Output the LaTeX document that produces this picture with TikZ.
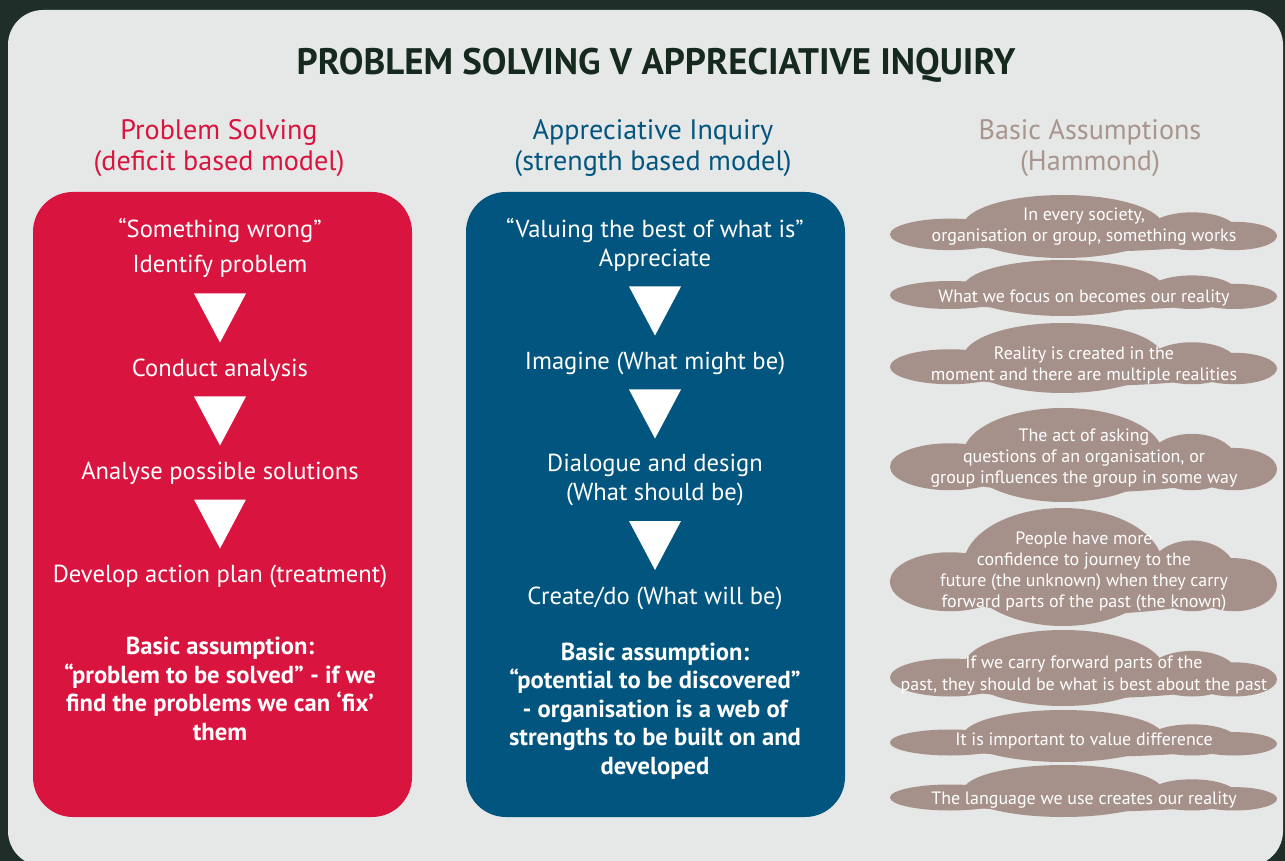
\documentclass[tikz,border=0pt]{standalone}
\usepackage{fontspec}
\setmainfont{PT Sans}
\usetikzlibrary{positioning,calc}
\definecolor{bgdark}{HTML}{1F2E28}
\definecolor{panelgrey}{HTML}{E6E7E7}
\definecolor{titlegreen}{HTML}{15291E}
\definecolor{psred}{HTML}{D8143F}
\definecolor{aiblue}{HTML}{02557F}
\definecolor{cloudtan}{HTML}{A6918A}
\definecolor{hamtan}{HTML}{A8958D}
%% cloud behind an assumption: centre y, half height
\newcommand{\hcloud}[2]{%
\fill[cloudtan] (1063,#1) ellipse (100 and #2);
\fill[cloudtan] (950,{#1+0.25*#2}) ellipse (60 and {0.5*#2});
\fill[cloudtan] (1083,{#1+0.3*#2}) ellipse (150 and {0.5*#2});
\fill[cloudtan] (1192,{#1+0.15*#2}) ellipse (45 and {0.6*#2});
\fill[cloudtan] (1234,{#1+0.3*#2}) ellipse (43 and {0.45*#2});
}
%% white step triangle
\newcommand{\downtri}[1]{%
\fill[white] ($(#1)+(-26,-24)$) -- ($(#1)+(26,-24)$) -- ($(#1)+(0,25)$) -- cycle;}

\begin{document}
\begin{tikzpicture}
[x=0.02cm,y=-0.02cm,
title/.style={text=titlegreen,font=\fontsize{21}{25}\selectfont\bfseries},
head/.style={align=center,font=\fontsize{16}{18}\selectfont},
stepline/.style={text=white,align=center,font=\fontsize{14}{16.2}\selectfont},
assume/.style={text=white,align=center,font=\fontsize{14}{16.2}\selectfont\bfseries},
hline/.style={text=white,align=center,font=\fontsize{10.2}{12}\selectfont}]
%%
\useasboundingbox (0,0) rectangle (1285,861);
\fill[bgdark] (0,0) rectangle (1285,861);
\fill[panelgrey,rounded corners=0.7cm] (8,10) rectangle (1283,866);
%%
\node[title] (title) at (656,65) {PROBLEM SOLVING V APPRECIATIVE INQUIRY};
%%
%%%%%%%%%%%%%%%%%%
% Problem solving
%%%%%%%%%%%%%%%%%%
\node[head,text=psred] (pshead) at (219,148) {Problem Solving\\(deficit based model)};
\fill[psred,rounded corners=0.8cm] (33,192) rectangle (412,817);
\node[stepline] (ps1) at (220,231) {“Something wrong”};
\node[stepline] (ps2) at (220,266) {Identify problem};
\coordinate (pt1) at (220,317.5);
\downtri{pt1}
\node[stepline] (ps3) at (220,370) {Conduct analysis};
\coordinate (pt2) at (220,420.5);
\downtri{pt2}
\node[stepline] (ps4) at (220,473) {Analyse possible solutions};
\coordinate (pt3) at (220,523.5);
\downtri{pt3}
\node[stepline] (ps5) at (220,576) {Develop action plan (treatment)};
\node[assume] (psbasic) at (220,689) {Basic assumption:\\“problem to be solved” - if we\\find the problems we can ‘fix’\\them};
%%
%%%%%%%%%%%%%%%%%%
% Appreciative inquiry
%%%%%%%%%%%%%%%%%%
\node[head,text=aiblue] (aihead) at (653,148) {Appreciative Inquiry\\(strength based model)};
\fill[aiblue,rounded corners=0.8cm] (466,192) rectangle (845,817);
\node[stepline] (ai1) at (655,245) {“Valuing the best of what is”\\Appreciate};
\coordinate (at1) at (655,310.5);
\downtri{at1}
\node[stepline] (ai2) at (655,363) {Imagine (What might be)};
\coordinate (at2) at (655,413.5);
\downtri{at2}
\node[stepline] (ai3) at (655,480) {Dialogue and design\\(What should be)};
\coordinate (at3) at (655,545);
\downtri{at3}
\node[stepline] (ai4) at (655,598) {Create/do (What will be)};
\node[assume] (aibasic) at (655,711) {Basic assumption:\\“potential to be discovered”\\- organisation is a web of\\strengths to be built on and\\developed};
%%
%%%%%%%%%%%%%%%%%%
% Basic assumptions
%%%%%%%%%%%%%%%%%%
\node[head,text=hamtan] (hamhead) at (1090,148) {Basic Assumptions\\(Hammond)};
\hcloud{226.5}{31.5}
\node[hline] (h1) at (1084,227) {In every society,\\organisation or group, something works};
\hcloud{288}{28}
\node[hline] (h2) at (1084,298) {What we focus on becomes our reality};
\hcloud{358}{35}
\node[hline] (h3) at (1084,365) {Reality is created in the\\moment and there are multiple realities};
\hcloud{455}{47}
\node[hline] (h4) at (1084,458) {The act of asking\\questions of an organisation, or\\group influences the group in some way};
\hcloud{567}{59}
\node[hline] (h5) at (1084,572) {People have more\\confidence to journey to the\\future (the unknown) when they carry\\forward parts of the past (the known)};
\hcloud{668}{38}
\node[hline] (h6) at (1084,675) {If we carry forward parts of the\\past, they should be what is best about the past};
\hcloud{736}{26}
\node[hline] (h7) at (1084,741) {It is important to value difference};
\hcloud{791}{26}
\node[hline] (h8) at (1084,800) {The language we use creates our reality};
%%
\end{tikzpicture}
\end{document}
